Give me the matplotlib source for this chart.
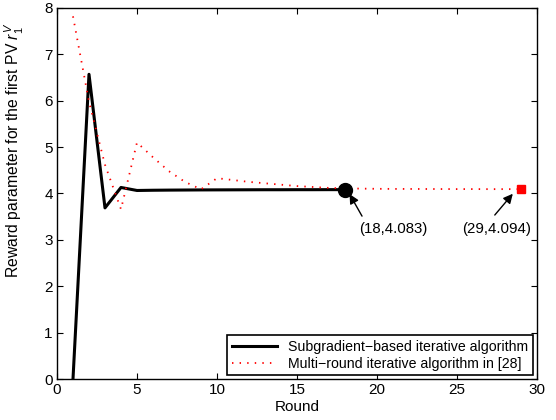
import numpy as np
import matplotlib
matplotlib.use("Agg")
import matplotlib.pyplot as plt

plt.rcParams['font.family'] = ['Liberation Sans', 'DejaVu Sans']
plt.rcParams['mathtext.fontset'] = 'custom'
plt.rcParams['mathtext.rm'] = 'Liberation Sans'
plt.rcParams['mathtext.it'] = 'Liberation Sans:italic'

# subgradient-based algorithm, rounds 1..18
sub_rounds = list(range(1, 19))
sub_values = [0.0, 6.57, 3.69, 4.13, 4.065, 4.07, 4.073, 4.075, 4.077, 4.078,
              4.079, 4.08, 4.081, 4.081, 4.082, 4.082, 4.083, 4.083]

# multi-round algorithm in [28], rounds 1..29
multi_rounds = list(range(1, 30))
multi_values = [7.82, 5.98, 4.62, 3.66, 5.1, 4.78, 4.48, 4.25, 4.09, 4.33,
                4.29, 4.25, 4.22, 4.19, 4.16, 4.14, 4.12, 4.11, 4.105, 4.101,
                4.099, 4.098, 4.097, 4.096, 4.095, 4.095, 4.094, 4.094, 4.094]

labels = ["Subgradient\u2212based iterative algorithm",
          "Multi\u2212round iterative algorithm in [28]"]

fig = plt.figure(figsize=(5.56, 4.2), dpi=100)
ax = fig.add_axes([0.1025, 0.0976, 0.8633, 0.8834])

ax.plot(sub_rounds, sub_values, color='black', lw=2.2, label=labels[0], zorder=2)
ax.plot(multi_rounds, multi_values, color='red', lw=1.3, ls=(0, (0.8, 3.4)),
        label=labels[1], zorder=3)

ax.plot(sub_rounds[-1], sub_values[-1], 'o', color='black', ms=10, zorder=4)
ax.plot(multi_rounds[-1], multi_values[-1], 's', color='red', ms=6, zorder=4)

ax.annotate('', xy=(18.2, 4.04), xytext=(19.15, 3.46),
            arrowprops=dict(arrowstyle='-|>', color='black', lw=1, mutation_scale=14))
ax.text(21.05, 3.23, "(%d,%.3f)" % (sub_rounds[-1], sub_values[-1]),
        ha='center', va='center', fontsize=10.8)
ax.annotate('', xy=(28.6, 4.04), xytext=(27.25, 3.49),
            arrowprops=dict(arrowstyle='-|>', color='black', lw=1, mutation_scale=14))
ax.text(27.45, 3.23, "(%d,%.3f)" % (multi_rounds[-1], multi_values[-1]),
        ha='center', va='center', fontsize=10.8)

ax.set_xlim(0, 30)
ax.set_ylim(0, 8)
ax.set_xticks(np.arange(0, 31, 5))
ax.set_yticks(np.arange(0, 9, 1))
ax.tick_params(direction='in', top=True, right=True, length=4, labelsize=11, pad=3)
for s in ax.spines.values():
    s.set_linewidth(1.0)

ax.set_xlabel("Round", fontsize=11, labelpad=2)
ax.set_ylabel("Reward parameter for the first PV $r_1^V$", fontsize=11.3)
ax.yaxis.set_label_coords(-0.065, 0.615)

leg = ax.legend(loc='lower right', fontsize=10.2, fancybox=False, framealpha=1,
                edgecolor='black', borderaxespad=0.3, handlelength=3.2,
                borderpad=0.3, labelspacing=0.2)
leg.get_frame().set_linewidth(1.2)

fig.savefig("out.png", dpi=100)
